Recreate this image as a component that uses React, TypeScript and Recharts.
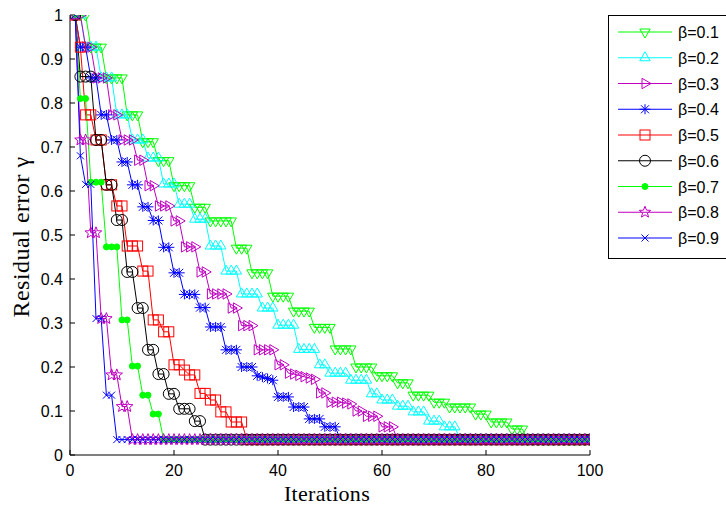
import React from 'react';
import { LineChart, Line, XAxis, YAxis } from 'recharts';

const iterations = [
  1, 2, 3, 4, 5, 6, 7, 8, 9, 10, 11, 12, 13, 14, 15, 16, 17, 18, 19, 20,
  21, 22, 23, 24, 25, 26, 27, 28, 29, 30, 31, 32, 33, 34, 35, 36, 37, 38, 39, 40,
  41, 42, 43, 44, 45, 46, 47, 48, 49, 50, 51, 52, 53, 54, 55, 56, 57, 58, 59, 60,
  61, 62, 63, 64, 65, 66, 67, 68, 69, 70, 71, 72, 73, 74, 75, 76, 77, 78, 79, 80,
  81, 82, 83, 84, 85, 86, 87, 88, 89, 90, 91, 92, 93, 94, 95, 96, 97, 98, 99, 100,
];

const beta01 = [
  1, 1, 1, 0.927, 0.927, 0.927, 0.857, 0.857, 0.857, 0.857,
  0.773, 0.773, 0.773, 0.712, 0.712, 0.712, 0.669, 0.669, 0.669, 0.612,
  0.612, 0.612, 0.612, 0.563, 0.563, 0.563, 0.532, 0.532, 0.532, 0.532,
  0.532, 0.47, 0.47, 0.47, 0.414, 0.414, 0.414, 0.414, 0.361, 0.361,
  0.361, 0.361, 0.327, 0.327, 0.327, 0.327, 0.29, 0.29, 0.29, 0.29,
  0.241, 0.241, 0.241, 0.241, 0.2, 0.2, 0.2, 0.2, 0.18, 0.18,
  0.18, 0.18, 0.164, 0.164, 0.164, 0.136, 0.136, 0.136, 0.136, 0.12,
  0.12, 0.12, 0.109, 0.109, 0.109, 0.109, 0.109, 0.093, 0.093, 0.093,
  0.075, 0.075, 0.075, 0.075, 0.059, 0.059, 0.059, 0.035, 0.035, 0.035,
  0.035, 0.035, 0.035, 0.035, 0.035, 0.035, 0.035, 0.035, 0.035, 0.035,
];

const beta02 = [
  1, 1, 0.927, 0.927, 0.927, 0.857, 0.857, 0.857, 0.773, 0.773,
  0.773, 0.716, 0.716, 0.716, 0.675, 0.675, 0.675, 0.616, 0.616, 0.616,
  0.57, 0.57, 0.57, 0.536, 0.536, 0.536, 0.475, 0.475, 0.475, 0.418,
  0.418, 0.418, 0.366, 0.366, 0.366, 0.366, 0.334, 0.334, 0.334, 0.295,
  0.295, 0.295, 0.295, 0.24, 0.24, 0.24, 0.24, 0.205, 0.205, 0.186,
  0.186, 0.186, 0.186, 0.17, 0.17, 0.17, 0.17, 0.139, 0.139, 0.125,
  0.125, 0.125, 0.111, 0.111, 0.111, 0.098, 0.098, 0.098, 0.077, 0.077,
  0.077, 0.064, 0.064, 0.064, 0.035, 0.035, 0.035, 0.035, 0.035, 0.035,
  0.035, 0.035, 0.035, 0.035, 0.035, 0.035, 0.035, 0.035, 0.035, 0.035,
  0.035, 0.035, 0.035, 0.035, 0.035, 0.035, 0.035, 0.035, 0.035, 0.035,
];

const beta03 = [
  1, 1, 0.927, 0.927, 0.857, 0.857, 0.857, 0.773, 0.773, 0.716,
  0.716, 0.716, 0.67, 0.67, 0.612, 0.612, 0.566, 0.566, 0.566, 0.532,
  0.532, 0.473, 0.473, 0.473, 0.416, 0.416, 0.366, 0.366, 0.366, 0.366,
  0.334, 0.334, 0.294, 0.294, 0.294, 0.239, 0.239, 0.239, 0.239, 0.205,
  0.205, 0.186, 0.184, 0.181, 0.178, 0.175, 0.172, 0.141, 0.141, 0.12,
  0.12, 0.12, 0.118, 0.116, 0.1, 0.1, 0.088, 0.088, 0.088, 0.064,
  0.064, 0.064, 0.035, 0.035, 0.035, 0.035, 0.035, 0.035, 0.035, 0.035,
  0.035, 0.035, 0.035, 0.035, 0.035, 0.035, 0.035, 0.035, 0.035, 0.035,
  0.035, 0.035, 0.035, 0.035, 0.035, 0.035, 0.035, 0.035, 0.035, 0.035,
  0.035, 0.035, 0.035, 0.035, 0.035, 0.035, 0.035, 0.035, 0.035, 0.035,
];

const beta04 = [
  1, 0.927, 0.927, 0.857, 0.857, 0.773, 0.773, 0.716, 0.716, 0.666,
  0.666, 0.614, 0.614, 0.564, 0.564, 0.533, 0.533, 0.472, 0.472, 0.414,
  0.414, 0.365, 0.365, 0.365, 0.335, 0.335, 0.291, 0.291, 0.291, 0.239,
  0.239, 0.239, 0.2, 0.2, 0.2, 0.18, 0.177, 0.174, 0.17, 0.132,
  0.132, 0.132, 0.109, 0.109, 0.109, 0.082, 0.082, 0.082, 0.064, 0.064,
  0.064, 0.035, 0.035, 0.035, 0.035, 0.035, 0.035, 0.035, 0.035, 0.035,
  0.035, 0.035, 0.035, 0.035, 0.035, 0.035, 0.035, 0.035, 0.035, 0.035,
  0.035, 0.035, 0.035, 0.035, 0.035, 0.035, 0.035, 0.035, 0.035, 0.035,
  0.035, 0.035, 0.035, 0.035, 0.035, 0.035, 0.035, 0.035, 0.035, 0.035,
  0.035, 0.035, 0.035, 0.035, 0.035, 0.035, 0.035, 0.035, 0.035, 0.035,
];

const beta05 = [
  1, 0.927, 0.773, 0.773, 0.716, 0.716, 0.614, 0.614, 0.566, 0.566,
  0.475, 0.475, 0.475, 0.418, 0.418, 0.307, 0.307, 0.28, 0.28, 0.205,
  0.205, 0.193, 0.182, 0.182, 0.14, 0.14, 0.125, 0.125, 0.098, 0.098,
  0.075, 0.075, 0.075, 0.035, 0.035, 0.035, 0.035, 0.035, 0.035, 0.035,
  0.035, 0.035, 0.035, 0.035, 0.035, 0.035, 0.035, 0.035, 0.035, 0.035,
  0.035, 0.035, 0.035, 0.035, 0.035, 0.035, 0.035, 0.035, 0.035, 0.035,
  0.035, 0.035, 0.035, 0.035, 0.035, 0.035, 0.035, 0.035, 0.035, 0.035,
  0.035, 0.035, 0.035, 0.035, 0.035, 0.035, 0.035, 0.035, 0.035, 0.035,
  0.035, 0.035, 0.035, 0.035, 0.035, 0.035, 0.035, 0.035, 0.035, 0.035,
  0.035, 0.035, 0.035, 0.035, 0.035, 0.035, 0.035, 0.035, 0.035, 0.035,
];

const beta06 = [
  1, 0.86, 0.86, 0.86, 0.716, 0.716, 0.614, 0.614, 0.534, 0.534,
  0.416, 0.416, 0.334, 0.334, 0.239, 0.239, 0.184, 0.184, 0.139, 0.139,
  0.105, 0.105, 0.105, 0.077, 0.077, 0.035, 0.035, 0.035, 0.035, 0.035,
  0.035, 0.035, 0.035, 0.035, 0.035, 0.035, 0.035, 0.035, 0.035, 0.035,
  0.035, 0.035, 0.035, 0.035, 0.035, 0.035, 0.035, 0.035, 0.035, 0.035,
  0.035, 0.035, 0.035, 0.035, 0.035, 0.035, 0.035, 0.035, 0.035, 0.035,
  0.035, 0.035, 0.035, 0.035, 0.035, 0.035, 0.035, 0.035, 0.035, 0.035,
  0.035, 0.035, 0.035, 0.035, 0.035, 0.035, 0.035, 0.035, 0.035, 0.035,
  0.035, 0.035, 0.035, 0.035, 0.035, 0.035, 0.035, 0.035, 0.035, 0.035,
  0.035, 0.035, 0.035, 0.035, 0.035, 0.035, 0.035, 0.035, 0.035, 0.035,
];

const beta07 = [
  1, 0.81, 0.81, 0.62, 0.62, 0.62, 0.473, 0.473, 0.473, 0.307,
  0.307, 0.202, 0.202, 0.136, 0.136, 0.093, 0.093, 0.035, 0.035, 0.035,
  0.035, 0.035, 0.035, 0.035, 0.035, 0.035, 0.035, 0.035, 0.035, 0.035,
  0.035, 0.035, 0.035, 0.035, 0.035, 0.035, 0.035, 0.035, 0.035, 0.035,
  0.035, 0.035, 0.035, 0.035, 0.035, 0.035, 0.035, 0.035, 0.035, 0.035,
  0.035, 0.035, 0.035, 0.035, 0.035, 0.035, 0.035, 0.035, 0.035, 0.035,
  0.035, 0.035, 0.035, 0.035, 0.035, 0.035, 0.035, 0.035, 0.035, 0.035,
  0.035, 0.035, 0.035, 0.035, 0.035, 0.035, 0.035, 0.035, 0.035, 0.035,
  0.035, 0.035, 0.035, 0.035, 0.035, 0.035, 0.035, 0.035, 0.035, 0.035,
  0.035, 0.035, 0.035, 0.035, 0.035, 0.035, 0.035, 0.035, 0.035, 0.035,
];

const beta08 = [
  1, 0.716, 0.716, 0.505, 0.505, 0.31, 0.31, 0.182, 0.182, 0.11,
  0.11, 0.035, 0.035, 0.035, 0.035, 0.035, 0.035, 0.035, 0.035, 0.035,
  0.035, 0.035, 0.035, 0.035, 0.035, 0.035, 0.035, 0.035, 0.035, 0.035,
  0.035, 0.035, 0.035, 0.035, 0.035, 0.035, 0.035, 0.035, 0.035, 0.035,
  0.035, 0.035, 0.035, 0.035, 0.035, 0.035, 0.035, 0.035, 0.035, 0.035,
  0.035, 0.035, 0.035, 0.035, 0.035, 0.035, 0.035, 0.035, 0.035, 0.035,
  0.035, 0.035, 0.035, 0.035, 0.035, 0.035, 0.035, 0.035, 0.035, 0.035,
  0.035, 0.035, 0.035, 0.035, 0.035, 0.035, 0.035, 0.035, 0.035, 0.035,
  0.035, 0.035, 0.035, 0.035, 0.035, 0.035, 0.035, 0.035, 0.035, 0.035,
  0.035, 0.035, 0.035, 0.035, 0.035, 0.035, 0.035, 0.035, 0.035, 0.035,
];

const beta09 = [
  1, 0.68, 0.615, 0.615, 0.31, 0.31, 0.136, 0.136, 0.035, 0.035,
  0.035, 0.035, 0.035, 0.035, 0.035, 0.035, 0.035, 0.035, 0.035, 0.035,
  0.035, 0.035, 0.035, 0.035, 0.035, 0.035, 0.035, 0.035, 0.035, 0.035,
  0.035, 0.035, 0.035, 0.035, 0.035, 0.035, 0.035, 0.035, 0.035, 0.035,
  0.035, 0.035, 0.035, 0.035, 0.035, 0.035, 0.035, 0.035, 0.035, 0.035,
  0.035, 0.035, 0.035, 0.035, 0.035, 0.035, 0.035, 0.035, 0.035, 0.035,
  0.035, 0.035, 0.035, 0.035, 0.035, 0.035, 0.035, 0.035, 0.035, 0.035,
  0.035, 0.035, 0.035, 0.035, 0.035, 0.035, 0.035, 0.035, 0.035, 0.035,
  0.035, 0.035, 0.035, 0.035, 0.035, 0.035, 0.035, 0.035, 0.035, 0.035,
  0.035, 0.035, 0.035, 0.035, 0.035, 0.035, 0.035, 0.035, 0.035, 0.035,
];

const seriesNames = ['β=0.1', 'β=0.2', 'β=0.3', 'β=0.4', 'β=0.5', 'β=0.6', 'β=0.7', 'β=0.8', 'β=0.9'];
const seriesKeys = ['b1', 'b2', 'b3', 'b4', 'b5', 'b6', 'b7', 'b8', 'b9'];
const seriesValues = [beta01, beta02, beta03, beta04, beta05, beta06, beta07, beta08, beta09];
const seriesColors = ['#00FF00', '#00FFFF', '#BF00BF', '#0000FF', '#FF0000', '#000000', '#00FF00', '#BF00BF', '#0000FF'];
const seriesMarkers = ['triDown', 'triUp', 'triRight', 'asterisk', 'square', 'circle', 'dot', 'star', 'cross'];

const xTicks = [0, 20, 40, 60, 80, 100];
const yTicks = [0, 0.1, 0.2, 0.3, 0.4, 0.5, 0.6, 0.7, 0.8, 0.9, 1];

const rows = iterations.map((k, i) => {
  const r: Record<string, number> = { k };
  seriesKeys.forEach((key, s) => {
    r[key] = seriesValues[s][i];
  });
  return r;
});

const SANS = '"Liberation Sans", Arial, Helvetica, sans-serif';
const SERIF = '"Liberation Serif", "Times New Roman", serif';

function starPoints(cx: number, cy: number, R: number, r: number) {
  const pts: string[] = [];
  for (let i = 0; i < 10; i++) {
    const a = -Math.PI / 2 + (i * Math.PI) / 5;
    const rad = i % 2 === 0 ? R : r;
    pts.push(`${cx + rad * Math.cos(a)},${cy + rad * Math.sin(a)}`);
  }
  return pts.join(' ');
}

function Marker({ type, cx, cy, color }: { type: string; cx: number; cy: number; color: string }) {
  const sw = 1;
  switch (type) {
    case 'triDown': {
      const r = 6;
      return (
        <polygon
          points={`${cx - 0.866 * r},${cy - 0.5 * r} ${cx + 0.866 * r},${cy - 0.5 * r} ${cx},${cy + r}`}
          fill="none" stroke={color} strokeWidth={sw}
        />
      );
    }
    case 'triUp': {
      const r = 6;
      return (
        <polygon
          points={`${cx - 0.866 * r},${cy + 0.5 * r} ${cx + 0.866 * r},${cy + 0.5 * r} ${cx},${cy - r}`}
          fill="none" stroke={color} strokeWidth={sw}
        />
      );
    }
    case 'triRight': {
      const r = 6;
      return (
        <polygon
          points={`${cx - 0.5 * r},${cy - 0.866 * r} ${cx - 0.5 * r},${cy + 0.866 * r} ${cx + r},${cy}`}
          fill="none" stroke={color} strokeWidth={sw}
        />
      );
    }
    case 'asterisk':
      return (
        <g stroke={color} strokeWidth={sw}>
          <line x1={cx - 5.5} y1={cy} x2={cx + 5.5} y2={cy} />
          <line x1={cx} y1={cy - 5} x2={cx} y2={cy + 5} />
          <line x1={cx - 4} y1={cy - 4} x2={cx + 4} y2={cy + 4} />
          <line x1={cx - 4} y1={cy + 4} x2={cx + 4} y2={cy - 4} />
        </g>
      );
    case 'square':
      return <rect x={cx - 5} y={cy - 5} width={10} height={10} fill="none" stroke={color} strokeWidth={sw} />;
    case 'circle':
      return <circle cx={cx} cy={cy} r={5.5} fill="none" stroke={color} strokeWidth={sw} />;
    case 'dot':
      return <circle cx={cx} cy={cy} r={3} fill={color} stroke={color} strokeWidth={sw} />;
    case 'star':
      return <polygon points={starPoints(cx, cy, 6, 2.6)} fill="none" stroke={color} strokeWidth={sw} />;
    case 'cross':
    default:
      return (
        <g stroke={color} strokeWidth={sw}>
          <line x1={cx - 3.5} y1={cy - 3.5} x2={cx + 3.5} y2={cy + 3.5} />
          <line x1={cx - 3.5} y1={cy + 3.5} x2={cx + 3.5} y2={cy - 3.5} />
        </g>
      );
  }
}

const makeDot = (type: string, color: string, sid: string) => (props: any) => {
  const { cx, cy, index } = props;
  if (cx == null || cy == null || isNaN(cx) || isNaN(cy)) return <g key={`${sid}-${index}`} />;
  return (
    <g key={`${sid}-${index}`}>
      <Marker type={type} cx={cx} cy={cy} color={color} />
    </g>
  );
};

const NoTick = () => <g />;

const XLabel = () => (
  <text x={327} y={501} textAnchor="middle" fontFamily={SERIF} fontSize={22} letterSpacing={0.3} fill="#000">
    Iterations
  </text>
);

const YLabel = () => (
  <text transform="translate(29, 237) rotate(-90)" x={0} y={0} textAnchor="middle" fontFamily={SERIF} fontSize={24} letterSpacing={0.5} fill="#000">
    Residual error γ
  </text>
);

function LegendBox() {
  const top = 32;
  const step = 25.75;
  return (
    <svg width={726} height={506} style={{ position: 'absolute', left: 0, top: 0, pointerEvents: 'none' }}>
      <rect x={608.5} y={15.5} width={130} height={243} fill="#fff" stroke="#000" strokeWidth={1} />
      {seriesNames.map((name, i) => {
        const y = top + i * step;
        return (
          <g key={name}>
            <line x1={618} y1={y} x2={672} y2={y} stroke={seriesColors[i]} strokeWidth={1} />
            <Marker type={seriesMarkers[i]} cx={645} cy={y} color={seriesColors[i]} />
            <text x={678} y={y + 6} fontFamily={SANS} fontSize={16} fill="#000">
              {name}
            </text>
          </g>
        );
      })}
    </svg>
  );
}

export default function App() {
  return (
    <div style={{ position: 'absolute', left: 0, top: 0, width: 726, height: 506, background: '#fff', overflow: 'hidden' }}>
      <LineChart width={726} height={506} data={rows} margin={{ top: 15, right: 136, bottom: 0, left: 0 }}>
        <XAxis
          xAxisId="b"
          dataKey="k"
          type="number"
          domain={[0, 100]}
          ticks={xTicks}
          interval={0}
          height={51}
          tickSize={-5}
          tickMargin={15}
          stroke="#000"
          axisLine={{ stroke: '#000', strokeWidth: 1 }}
          tickLine={{ stroke: '#000', strokeWidth: 1 }}
          tick={{ fill: '#000', fontSize: 16, fontFamily: SANS }}
          label={XLabel}
          allowDataOverflow
        />
        <XAxis
          xAxisId="t"
          orientation="top"
          dataKey="k"
          type="number"
          domain={[0, 100]}
          ticks={xTicks}
          interval={0}
          height={0}
          tickSize={-5}
          stroke="#000"
          tick={NoTick}
          allowDataOverflow
        />
        <YAxis
          yAxisId="l"
          type="number"
          domain={[0, 1]}
          ticks={yTicks}
          interval={0}
          width={70}
          tickSize={-5}
          tickMargin={12}
          stroke="#000"
          axisLine={{ stroke: '#000', strokeWidth: 1 }}
          tickLine={{ stroke: '#000', strokeWidth: 1 }}
          tick={{ fill: '#000', fontSize: 16, fontFamily: SANS }}
          label={YLabel}
          allowDataOverflow
        />
        <YAxis
          yAxisId="r"
          orientation="right"
          type="number"
          domain={[0, 1]}
          ticks={yTicks}
          interval={0}
          width={0}
          tickSize={-5}
          stroke="#000"
          tick={NoTick}
          allowDataOverflow
        />
        {seriesKeys.map((key, i) => (
          <Line
            key={key}
            xAxisId="b"
            yAxisId="l"
            type="linear"
            dataKey={key}
            name={seriesNames[i]}
            stroke={seriesColors[i]}
            strokeWidth={1}
            dot={makeDot(seriesMarkers[i], seriesColors[i], key)}
            activeDot={false}
            isAnimationActive={false}
          />
        ))}
      </LineChart>
      <LegendBox />
    </div>
  );
}
